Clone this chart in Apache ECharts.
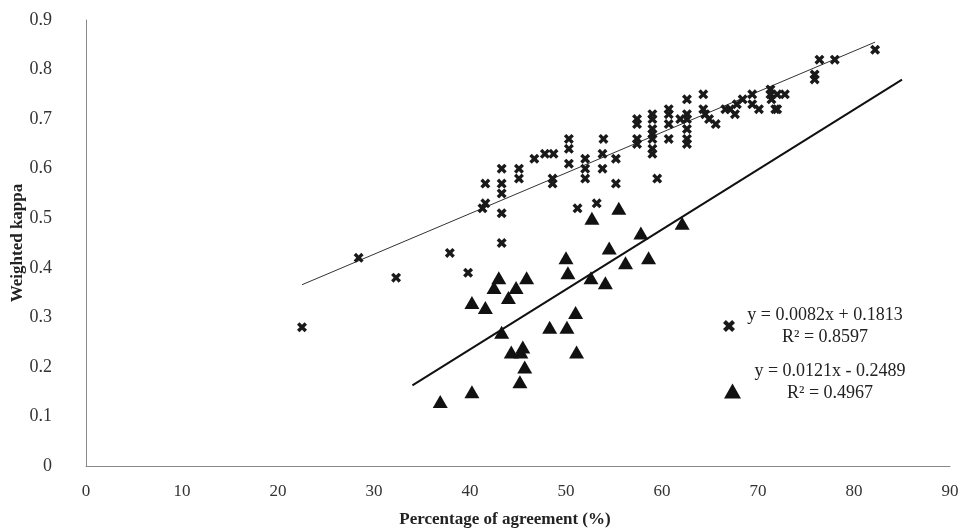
<!DOCTYPE html>
<html>
<head>
<meta charset="utf-8">
<script src="https://cdn.jsdelivr.net/npm/echarts@6/dist/echarts.min.js"></script>
<style>
html,body{margin:0;padding:0;background:#fff;}
#chart{width:976px;height:529px;}
</style>
</head>
<body>
<div id="chart"></div>
<script>
// Series 1 (x markers): percentage of agreement / weighted kappa
const crossAgree = [22.5,28.4,32.3,37.9,39.8,41.6,41.6,41.3,43.3,43.3,43.3,43.3,43.3,45.1,45.1,46.7,47.8,48.7,48.6,48.6,
  50.3,50.3,50.3,51.2,52.0,52.0,52.0,53.2,53.9,53.8,53.8,55.2,55.2,59.5,57.4,57.4,57.4,57.4,59.0,59.0,
  59.0,59.0,59.0,59.0,59.0,60.7,60.7,60.7,60.7,61.9,62.6,62.6,62.6,62.6,62.6,62.6,64.3,64.3,64.5,64.9,
  65.6,66.6,67.1,67.6,67.8,68.4,69.4,69.4,70.1,71.3,71.3,71.4,71.8,72.0,72.8,72.0,75.9,75.9,76.4,78.0,82.2];
const crossKappa = [0.28,0.42,0.38,0.43,0.39,0.57,0.53,0.52,0.60,0.57,0.55,0.51,0.45,0.60,0.58,0.62,0.63,0.63,0.58,0.57,
  0.66,0.64,0.61,0.52,0.62,0.60,0.58,0.53,0.66,0.63,0.60,0.62,0.57,0.58,0.70,0.69,0.66,0.65,0.71,0.70,
  0.68,0.67,0.66,0.64,0.63,0.72,0.71,0.69,0.66,0.70,0.74,0.71,0.70,0.68,0.66,0.65,0.75,0.72,0.71,0.70,
  0.69,0.72,0.72,0.71,0.73,0.74,0.75,0.73,0.72,0.76,0.75,0.74,0.72,0.75,0.75,0.72,0.79,0.78,0.82,0.82,0.84];

// Series 2 (triangles)
const triAgree = [36.9,40.2,40.2,41.6,42.5,43.0,44.0,44.8,45.9,43.3,44.3,45.5,45.3,45.7,45.2,48.3,50.1,51.0,51.1,50.0,
  50.2,52.6,54.1,54.5,52.7,55.5,56.2,57.8,58.6,62.1];
const triKappa = [0.13,0.15,0.33,0.32,0.36,0.38,0.34,0.36,0.38,0.27,0.23,0.24,0.23,0.20,0.17,0.28,0.28,0.31,0.23,0.42,
  0.39,0.38,0.37,0.44,0.50,0.52,0.41,0.47,0.42,0.49];

// Trendline equations and their drawn x-ranges
const crossTrend = {slope:0.0082, intercept:0.1813, from:22.5, to:82.2, r2:'0.8597'};
const triTrend = {slope:0.0121, intercept:-0.2489, from:34, to:85, r2:'0.4967'};

const xTicks = [0,10,20,30,40,50,60,70,80,90];
const yTicks = [0,0.1,0.2,0.3,0.4,0.5,0.6,0.7,0.8,0.9];

function pts(a,b){return a.map((v,i)=>[v,b[i]]);}
function line(t){return [[t.from,t.slope*t.from+t.intercept],[t.to,t.slope*t.to+t.intercept]];}
function eq(t){
  const s=t.intercept<0?' - ':' + ';
  return 'y = '+t.slope.toFixed(4)+'x'+s+Math.abs(t.intercept).toFixed(4);
}

const crossName = eq(crossTrend);
const triName = eq(triTrend);
const crossPath = 'path://M0,2.4 L2.4,0 L5,2.6 L7.6,0 L10,2.4 L7.4,5 L10,7.6 L7.6,10 L5,7.4 L2.4,10 L0,7.6 L2.6,5 Z';
const serif = '"Liberation Serif","DejaVu Serif",serif';

const chart = echarts.init(document.getElementById('chart'));
chart.setOption({
  animation:false,
  backgroundColor:'#fff',
  grid:{left:86,right:26,top:20,bottom:63,containLabel:false,outerBoundsMode:'none'},
  xAxis:{
    type:'value',min:xTicks[0],max:xTicks[xTicks.length-1],interval:10,
    name:'Percentage of agreement (%)',nameLocation:'middle',nameGap:45,nameMoveOverlap:false,
    nameTextStyle:{fontFamily:serif,fontWeight:'bold',fontSize:17,color:'#222',padding:[0,26,0,0]},
    axisLine:{lineStyle:{color:'#8a8a8a',width:1}},
    axisTick:{show:false},splitLine:{show:false},
    axisLabel:{fontFamily:serif,fontSize:17,color:'#333',margin:17}
  },
  yAxis:{
    type:'value',min:yTicks[0],max:yTicks[yTicks.length-1],interval:0.1,
    name:'Weighted kappa',nameLocation:'middle',nameGap:60,nameMoveOverlap:false,
    nameTextStyle:{fontFamily:serif,fontWeight:'bold',fontSize:17,color:'#222'},
    axisLine:{show:true,lineStyle:{color:'#8a8a8a',width:1}},
    axisTick:{show:false},splitLine:{show:false},
    axisLabel:{fontFamily:serif,fontSize:18,color:'#333',margin:34,
      formatter:v=>String(Math.round(v*10)/10)}
  },
  legend:[
    {data:[crossName],left:718,top:301,orient:'vertical',itemWidth:14,itemHeight:12,itemGap:0,
     formatter:n=>'{a|'+n+'}\n{a|R² = '+crossTrend.r2+'}',
     textStyle:{rich:{a:{fontFamily:serif,fontSize:18,color:'#222',width:168,align:'center',lineHeight:22}}}},
    {data:[triName],left:719,top:357,orient:'vertical',itemWidth:17,itemHeight:15,itemGap:0,
     formatter:n=>'{a|'+n+'}\n{a|R² = '+triTrend.r2+'}',
     textStyle:{padding:[0,0,18,0],rich:{a:{fontFamily:serif,fontSize:18,color:'#222',width:168,align:'center',lineHeight:22}}}}
  ],
  series:[
    {name:crossName,type:'scatter',symbol:crossPath,symbolSize:10,
     itemStyle:{color:'#1a1a1a',opacity:1},data:pts(crossAgree,crossKappa),z:3},
    {name:triName,type:'scatter',symbol:'triangle',symbolSize:[15,13],
     itemStyle:{color:'#111',opacity:1},data:pts(triAgree,triKappa),z:3},
    {name:'trend1',type:'line',data:line(crossTrend),symbol:'none',
     lineStyle:{color:'#333',width:1},z:2},
    {name:'trend2',type:'line',data:line(triTrend),symbol:'none',
     lineStyle:{color:'#111',width:2},z:2}
  ]
});
</script>
</body>
</html>
